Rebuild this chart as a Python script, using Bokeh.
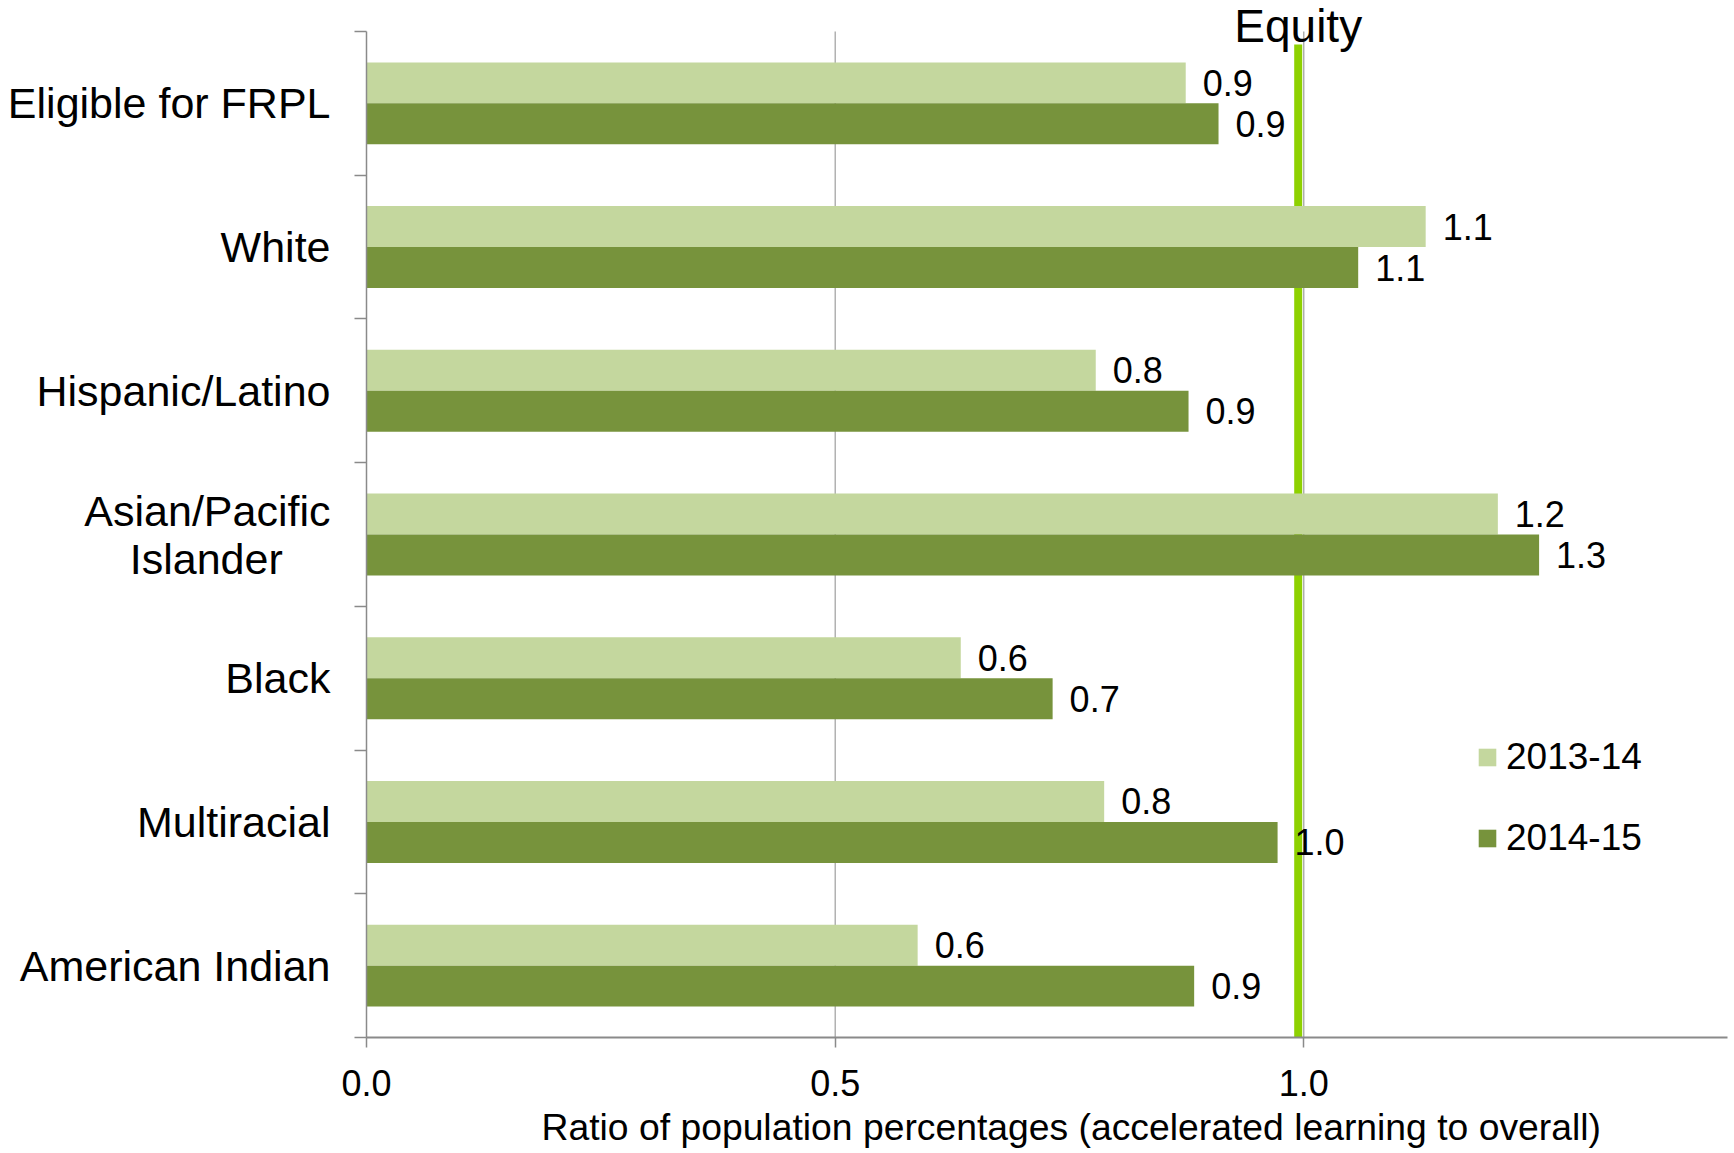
import numpy as np
from bokeh.plotting import figure
from bokeh.models import (Range1d, FixedTicker, NumeralTickFormatter, ColumnDataSource,
                          LabelSet, Label, Legend, LegendItem, Title)
from bokeh.core.properties import value
from bokeh.embed import file_html
from bokeh.resources import INLINE

# Groups, top to bottom
categories = ["Eligible for FRPL", "White", "Hispanic/Latino",
              "Asian/Pacific\nIslander\u00a0\u00a0\u00a0\u00a0",
              "Black", "Multiracial", "American Indian"]
# Ratio of population percentages (accelerated learning to overall)
ratio_2013_14 = [0.874, 1.130, 0.778, 1.207, 0.634, 0.787, 0.588]
ratio_2014_15 = [0.909, 1.058, 0.877, 1.251, 0.732, 0.972, 0.883]
series_names = ["2013-14", "2014-15"]
x_ticks = [0.0, 0.5, 1.0]
equity_x = 0.994
equity_label = "Equity"
x_title = "Ratio of population percentages (accelerated learning to overall)"

FONT = "Liberation Sans"
LIGHT = "#C4D79E"
DARK = "#77933C"
AXIS_GRAY = "#8A8A8A"
EQUITY_GREEN = "#8ED100"

n = len(categories)
centers = n - 0.5 - np.arange(n)
bar_h = 0.285

# plot area: 1006 px for the n bands, plus 31 px of headroom for the "Equity" caption
band_px, head_px = 1006, 31
y_top = n * (band_px + head_px) / band_px

p = figure(width=1734, height=1153, output_backend="svg", toolbar_location=None,
           x_range=Range1d(0, 1.452), y_range=Range1d(0, y_top),
           min_border_left=366, min_border_right=7, min_border_top=0, min_border_bottom=116)
p.outline_line_color = None
p.background_fill_color = "white"
p.border_fill_color = "white"
p.grid.visible = False

# vertical gridlines limited to the band area
p.segment(x0=x_ticks[1:], x1=x_ticks[1:], y0=0, y1=n, line_color=AXIS_GRAY, line_width=1)

# equity reference line (behind the bars)
p.segment(x0=[equity_x], x1=[equity_x], y0=[-0.1], y1=[n - 0.09],
          line_color=EQUITY_GREEN, line_width=8)

src = ColumnDataSource(dict(
    y_a=centers + bar_h / 2, y_b=centers - bar_h / 2,
    a=ratio_2013_14, b=ratio_2014_15,
    ta=[f"{v:.1f}" for v in ratio_2013_14], tb=[f"{v:.1f}" for v in ratio_2014_15],
))

r_a = p.hbar(y="y_a", left=0, right="a", height=bar_h, source=src,
             fill_color=LIGHT, line_color=None)
r_b = p.hbar(y="y_b", left=0, right="b", height=bar_h, source=src,
             fill_color=DARK, line_color=None)

for col, ycol in (("a", "y_a"), ("b", "y_b")):
    p.add_layout(LabelSet(x=col, y=ycol, text="t" + col, source=src, x_offset=17,
                          text_baseline="middle", text_align="left",
                          text_font=value(FONT), text_font_size=value("36px"),
                          text_color="black"))

# y axis: group names at band centres, tick marks at band boundaries
p.yaxis.bounds = (0, n)
p.yaxis.ticker = FixedTicker(ticks=list(centers), minor_ticks=list(range(n + 1)))
p.yaxis.major_label_overrides = {float(c): name for c, name in zip(centers, categories)}
p.yaxis.major_tick_out = 0
p.yaxis.major_tick_in = 0
p.yaxis.minor_tick_out = 12
p.yaxis.minor_tick_in = 0
p.yaxis.minor_tick_line_color = AXIS_GRAY
p.yaxis.minor_tick_line_width = 1.5
p.yaxis.axis_line_color = AXIS_GRAY
p.yaxis.axis_line_width = 1.5
p.yaxis.major_label_standoff = 24
p.yaxis.major_label_text_font = FONT
p.yaxis.major_label_text_font_size = "43px"
p.yaxis.major_label_text_line_height = 1.0
p.yaxis.major_label_text_color = "black"

# x axis
p.xaxis.ticker = FixedTicker(ticks=x_ticks)
p.xaxis.formatter = NumeralTickFormatter(format="0.0")
p.xaxis.major_tick_out = 10
p.xaxis.major_tick_in = 0
p.xaxis.minor_tick_out = 0
p.xaxis.minor_tick_in = 0
p.xaxis.major_tick_line_color = AXIS_GRAY
p.xaxis.major_tick_line_width = 1.5
p.xaxis.axis_line_color = AXIS_GRAY
p.xaxis.axis_line_width = 2
p.xaxis.major_label_standoff = 22
p.xaxis.major_label_text_font = FONT
p.xaxis.major_label_text_font_size = "36px"
p.xaxis.major_label_text_color = "black"

p.add_layout(Title(text=x_title, align="left", offset=175, standoff=10,
                   text_font=FONT, text_font_size="37.3px", text_font_style="normal",
                   text_color="black"), "below")

p.add_layout(Label(x=equity_x, y=n, y_offset=6, text=equity_label, text_align="center",
                   text_baseline="alphabetic", text_font=FONT, text_font_size="46px",
                   text_color="black"))

legend = Legend(items=[LegendItem(label=series_names[0], renderers=[r_a]),
                       LegendItem(label=series_names[1], renderers=[r_b])],
                location=(1110, 178), padding=0, margin=0, spacing=39,
                glyph_width=22, glyph_height=22, label_standoff=8,
                label_text_font=FONT, label_text_font_size="37px", label_text_color="black",
                border_line_color=None, background_fill_alpha=0)
p.add_layout(legend)

open("out.html", "w").write(file_html(p, INLINE))
